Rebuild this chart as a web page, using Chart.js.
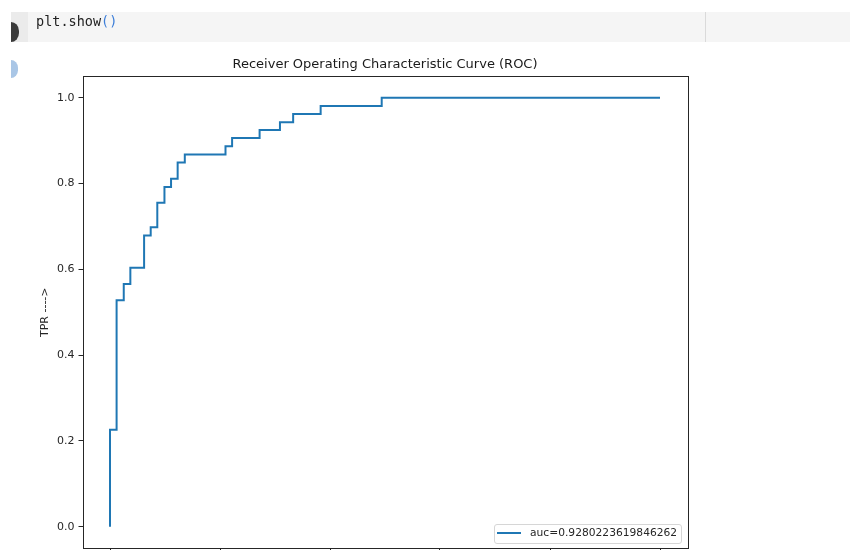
<!DOCTYPE html>
<html>
<head>
<meta charset="utf-8">
<script src="https://cdn.jsdelivr.net/npm/chart.js@4.4.1/dist/chart.umd.min.js"></script>
<style>
  html, body { margin: 0; padding: 0; background: #fff; overflow: hidden; width: 850px; height: 550px; }
  #wrap { position: relative; width: 850px; height: 550px; overflow: hidden; }
  canvas { position: absolute; left: 0; top: 0; }
  .cell { position: absolute; left: 11px; top: 12px; width: 839px; height: 30px; background: #f5f5f5; }
  .gutter { position: absolute; left: 11px; top: 12px; width: 17px; height: 30px; background: #ebebeb; }
  .divider { position: absolute; left: 705px; top: 12px; width: 1px; height: 30px; background: #dadada; }
  .dot { position: absolute; left: 11px; top: 22px; width: 8px; height: 20px; background: #3a3a3a; border-radius: 0 9px 9px 0 / 0 10px 10px 0; }
  .bdot { position: absolute; left: 11px; top: 60px; width: 7px; height: 18px; background: #a9c6e6; border-radius: 0 8px 8px 0 / 0 9px 9px 0; }
  .code { position: absolute; left: 36px; top: 13px; font: 13.5px/16px 'DejaVu Sans Mono', monospace; color: #222; white-space: pre; }
  .code .paren { color: #3b7dd8; }
  .legend { position: absolute; left: 494px; top: 524px; width: 186px; height: 18px; border: 1px solid #d6d6d6; border-radius: 3px; background: rgba(255,255,255,0.8); }
  .legline { position: absolute; left: 497px; top: 532px; width: 24px; height: 2px; background: #1f77b4; }
  .legtext { position: absolute; left: 530px; top: 526px; font: 10.7px/14px 'DejaVu Sans', sans-serif; color: #262626; white-space: pre; }
</style>
</head>
<body>
<div id="wrap">
  <canvas id="c" width="850" height="600"></canvas>
  <div class="cell"></div>
  <div class="gutter"></div>
  <div class="divider"></div>
  <div class="dot"></div>
  <div class="bdot"></div>
  <div class="code">plt.show<span class="paren">()</span></div>
  <div class="legend"></div>
  <div class="legline"></div>
  <div class="legtext" id="legtext"></div>
</div>
<script>
// ---- data ----
const fpr = [0, 0, 0.012, 0.012, 0.025, 0.025, 0.037, 0.037, 0.062, 0.062, 0.074, 0.074,
             0.086, 0.086, 0.099, 0.099, 0.111, 0.111, 0.123, 0.123, 0.136, 0.136,
             0.210, 0.210, 0.222, 0.222, 0.272, 0.272, 0.309, 0.309, 0.333, 0.333,
             0.383, 0.383, 0.494, 0.494, 1.0];
const tpr = [0, 0.226, 0.226, 0.528, 0.528, 0.566, 0.566, 0.604, 0.604, 0.679, 0.679, 0.698,
             0.698, 0.755, 0.755, 0.792, 0.792, 0.811, 0.811, 0.849, 0.849, 0.868,
             0.868, 0.887, 0.887, 0.906, 0.906, 0.925, 0.925, 0.943, 0.943, 0.962,
             0.962, 0.981, 0.981, 1.0, 1.0];
const xTickValues = [0, 0.2, 0.4, 0.6, 0.8, 1.0];
const yTickValues = [0, 0.2, 0.4, 0.6, 0.8, 1.0];
const seriesLabel = 'auc=0.9280223619846262';
const chartTitle = 'Receiver Operating Characteristic Curve (ROC)';
const xAxisTitle = 'FPR ---->';
const yAxisTitle = 'TPR ---->';

// ---- chart ----
const points = fpr.map((x, i) => ({ x: x, y: tpr[i] }));
document.getElementById('legtext').textContent = seriesLabel;

const tickFont = { family: 'DejaVu Sans', size: 11, lineHeight: 1.2 };
const ink = '#262626';

const framePlugin = {
  id: 'frame',
  afterDraw(chart) {
    const { ctx, chartArea: a } = chart;
    const l = Math.round(a.left) + 0.5, t = Math.round(a.top) + 0.5;
    const r = Math.round(a.right) + 0.5, b = Math.round(a.bottom) + 0.5;
    ctx.save();
    ctx.strokeStyle = ink;
    ctx.lineWidth = 1;
    ctx.strokeRect(l, t, r - l, b - t);
    ctx.restore();
  }
};

new Chart(document.getElementById('c').getContext('2d'), {
  type: 'line',
  data: {
    datasets: [{
      label: seriesLabel,
      data: points,
      borderColor: '#1f77b4',
      backgroundColor: '#1f77b4',
      borderWidth: 2,
      pointRadius: 0,
      pointHoverRadius: 0,
      fill: false,
      tension: 0
    }]
  },
  options: {
    responsive: false,
    animation: false,
    devicePixelRatio: 1,
    layout: { padding: { left: 0, right: 162.5, top: 0, bottom: 0 } },
    plugins: {
      legend: { display: false },
      tooltip: { enabled: false },
      title: {
        display: true,
        text: chartTitle,
        fullSize: false,
        color: '#1a1a1a',
        font: { family: 'DejaVu Sans', size: 13, weight: 'normal', lineHeight: 1.2 },
        padding: { top: 56.7, bottom: 4 }
      }
    },
    scales: {
      x: {
        type: 'linear',
        min: -0.05,
        max: 1.05,
        afterBuildTicks: s => { s.ticks = xTickValues.map(v => ({ value: v })); },
        afterFit: s => { s.height = 51.8; },
        grid: { drawOnChartArea: false, drawTicks: true, tickLength: 4, color: ink },
        border: { display: false },
        ticks: { padding: 3, color: ink, font: tickFont, maxRotation: 0, autoSkip: false,
                 callback: v => Number(v).toFixed(1) },
        title: { display: true, text: xAxisTitle, color: ink, font: tickFont, padding: { top: 2, bottom: 0 } }
      },
      y: {
        type: 'linear',
        min: -0.05,
        max: 1.05,
        afterBuildTicks: s => { s.ticks = yTickValues.map(v => ({ value: v })); },
        afterFit: s => { s.width = 82.5; },
        grid: { drawOnChartArea: false, drawTicks: true, tickLength: 4, color: ink },
        border: { display: false },
        ticks: { padding: 4, color: ink, font: tickFont, autoSkip: false,
                 callback: v => Number(v).toFixed(1) },
        title: { display: true, text: yAxisTitle, color: ink, font: tickFont, padding: { top: 38.4, bottom: 0 } }
      }
    }
  },
  plugins: [framePlugin]
});
</script>
</body>
</html>
